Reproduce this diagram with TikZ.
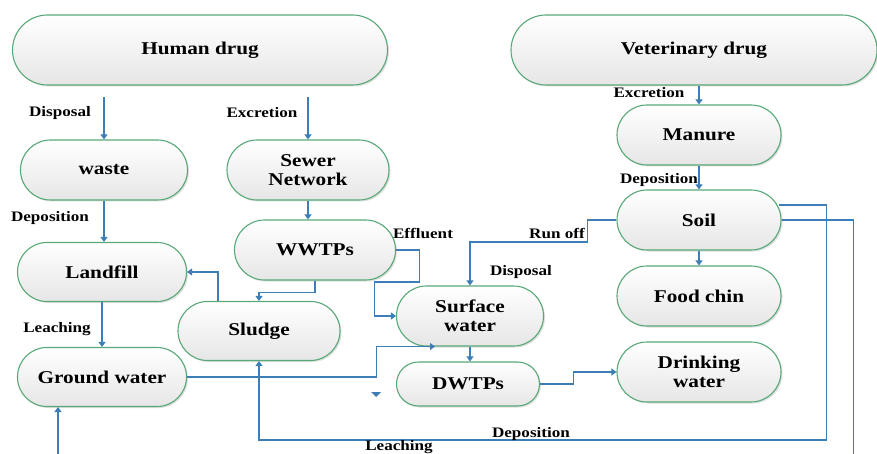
\documentclass[tikz,border=0pt]{standalone}
\usepackage{fontspec}
\setmainfont{Liberation Serif}[FakeStretch=1.18]
\usetikzlibrary{arrows.meta,calc,shadows}
\definecolor{pillgreen}{RGB}{88,168,120}
\definecolor{flowblue}{RGB}{62,126,182}
\definecolor{pillgray}{RGB}{230,230,230}
\tikzset{
  pill/.style={draw=pillgreen, line width=1.1pt, top color=white, bottom color=pillgray,
    inner sep=0pt, align=center, font=\fontsize{18}{18.6}\selectfont\bfseries,
    drop shadow={shadow xshift=1.5pt, shadow yshift=-1.5pt, opacity=0.25}},
  flow/.style={draw=flowblue, line width=1.1pt, -{Triangle[width=7pt,length=5pt]}},
  plainline/.style={draw=flowblue, line width=1.1pt},
  lbl/.style={font=\fontsize{14.5}{16}\selectfont\bfseries, inner sep=0pt},
}
\begin{document}
\begin{tikzpicture}[x=1pt,y=-1pt]
\useasboundingbox (0,0) rectangle (877,454);
\clip (0,0) rectangle (877,454);
% nodes
\node[pill, minimum width=375pt, minimum height=70pt, rounded corners=35pt] (hd) at (200,50) {Human drug};
\node[pill, minimum width=366pt, minimum height=70pt, rounded corners=35pt] (vd) at (694,50) {Veterinary drug};
\node[pill, minimum width=167pt, minimum height=60pt, rounded corners=30pt] (waste) at (104,170) {waste};
\node[pill, minimum width=162pt, minimum height=60pt, rounded corners=30pt] (sewer) at (308,170) {Sewer\\Network};
\node[pill, minimum width=164pt, minimum height=60pt, rounded corners=30pt] (manure) at (699,135) {Manure};
\node[pill, minimum width=164pt, minimum height=60pt, rounded corners=30pt] (soil) at (699,220) {Soil};
\node[pill, minimum width=161pt, minimum height=60pt, rounded corners=30pt] (wwtp) at (315,250) {WWTPs};
\node[pill, minimum width=169pt, minimum height=59pt, rounded corners=29.5pt] (landfill) at (102,272) {Landfill};
\node[pill, minimum width=162pt, minimum height=59pt, rounded corners=29.5pt] (sludge) at (259,331) {Sludge};
\node[pill, minimum width=169pt, minimum height=59pt, rounded corners=29.5pt] (ground) at (102,377) {Ground water};
\node[pill, minimum width=147pt, minimum height=60pt, rounded corners=30pt] (surface) at (470,316) {Surface\\water};
\node[pill, minimum width=143pt, minimum height=44pt, rounded corners=22pt] (dwtp) at (468,384) {DWTPs};
\node[pill, minimum width=164pt, minimum height=60pt, rounded corners=30pt] (food) at (699,296) {Food chin};
\node[pill, minimum width=164pt, minimum height=60pt, rounded corners=30pt] (drink) at (699,372) {Drinking\\water};
% connectors
\coordinate (d1) at (104,97);
\coordinate (e1) at (308,97);
\draw[flow] (d1) -- (waste.north);
\draw[flow] (e1) -- (sewer.north);
\draw[flow] (manure.north |- vd.south) -- (manure.north);
\draw[flow] (manure.south) -- (soil.north);
\draw[flow] (waste.south) -- (waste.south |- landfill.north);
\draw[flow] (landfill.south) -- (ground.north);
\draw[flow] (sewer.south) -- (sewer.south |- wwtp.north);
\draw[flow] (wwtp.south) -- ++(0,12) -| (sludge.north);
\draw[flow] ($(sludge.north)+(-41,0)$) |- (landfill.east);
\draw[flow] (wwtp.east) -- ++(23,0) -- ++(0,32) -- ++(-45,0) |- (surface.west);
\draw[flow] (soil.west) -- ++(-29,0) -- ++(0,22) -| (surface.north);
\draw[flow] (ground.east) -- ++(189,0) |- ($(surface.south)+(-35,0)$);
\draw[flow] (surface.south) -- (surface.south |- dwtp.north);
\draw[flow] (dwtp.east) -- ++(33,0) |- (drink.west);
\draw[flow] (soil.south) -- (food.north);
\draw[flow] ($(soil.east)+(-3,-15)$) -- ++(48,0) -- ++(0,235) -| (sludge.south);
\draw[plainline] (soil.east) -- ++(72,0) -- ++(0,245);
\coordinate (lb) at (58,460);
\draw[flow] (lb) -- (lb |- ground.south);
\fill[flowblue] (371,392) -- (381,392) -- (376,397) -- cycle;
% labels
\node[lbl] at (60,113) {Disposal};
\node[lbl] at (262,113) {Excretion};
\node[lbl] at (50,218) {Deposition};
\node[lbl] at (57,329) {Leaching};
\node[lbl] at (649,93) {Excretion};
\node[lbl] at (659,180) {Deposition};
\node[lbl] at (423,233) {Effluent};
\node[lbl] at (557,233) {Run off};
\node[lbl] at (521,272) {Disposal};
\node[lbl] at (531,434) {Deposition};
\node[lbl] at (399,447.3) {Leaching};
\end{tikzpicture}
\end{document}
